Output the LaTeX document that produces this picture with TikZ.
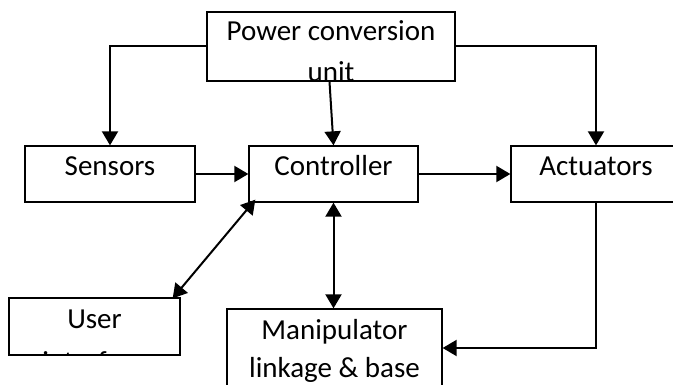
\documentclass[tikz,border=0pt]{standalone}
\usepackage{fontspec}
\setmainfont{Carlito}
\usetikzlibrary{arrows.meta}
\begin{document}
\begin{tikzpicture}[x=1pt,y=-1pt,
  box/.style={draw,line width=1.3pt,rectangle,inner sep=0pt},
  lbl/.style={anchor=base,inner sep=0pt,font=\fontsize{29}{40}\selectfont},
  arr/.style={line width=2pt,-{Triangle[width=16pt,length=14pt]}},
  darr/.style={line width=2pt,{Triangle[width=16pt,length=14pt]}-{Triangle[width=16pt,length=14pt]}}]
\useasboundingbox (0,0) rectangle (673,385);
\clip (0,0) rectangle (673,385);
% boxes
\node[box,minimum width=248pt,minimum height=69pt] (power) at (331,46.5) {};
\node[box,minimum width=170pt,minimum height=56pt] (sensors) at (110,174) {};
\node[box,minimum width=169pt,minimum height=56pt] (ctrl) at (333.5,174) {};
\node[box,minimum width=170pt,minimum height=56pt] (act) at (596,174) {};
\node[box,minimum width=171pt,minimum height=57pt] (user) at (94.5,326.5) {};
\node[box,minimum width=215pt,minimum height=78pt] (manip) at (334.5,348) {};
% labels
\node[lbl] (t1) at (331,40.5) {Power conversion};
\node[lbl] (t2) at (331,81.5) {unit};
\node[lbl] (t3) at (110,175.5) {Sensors};
\node[lbl] (t4) at (333.5,175.5) {Controller};
\node[lbl] (t5) at (596,175.5) {Actuators};
\node[lbl] (t6) at (334.5,339.5) {Manipulator};
\node[lbl] (t7) at (334.5,377.5) {linkage \& base};
\begin{scope}
\clip (user.south west) rectangle (user.north east);
\node[lbl] (t8) at (94.5,328.5) {User};
\node[lbl] (t9) at (94.5,371.5) {interface};
\end{scope}
% connectors
\draw[arr] (power.west) -| (sensors.north);
\draw[arr] (power.east) -| (act.north);
\draw[arr] ([xshift=-1.5pt]power.south) -- (ctrl.north);
\draw[arr] (sensors.east) -- (ctrl.west);
\draw[arr] (ctrl.east) -- (act.west);
\draw[darr] (ctrl.south) -- (ctrl.south |- manip.north);
\draw[darr] ([shift={(7,-3)}]ctrl.south west) -- ([shift={(-8,1)}]user.north east);
\draw[arr] (act.south) |- (manip.east);
\end{tikzpicture}
\end{document}
